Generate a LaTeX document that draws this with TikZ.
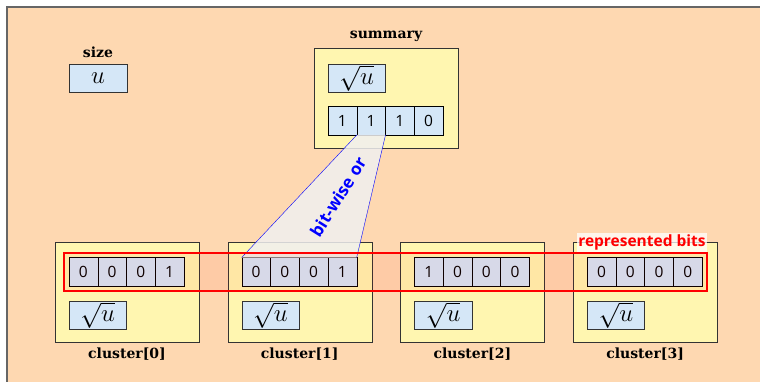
\documentclass[tikz,border=0pt]{standalone}
\usepackage{fontspec}
\setsansfont{Open Sans}
\newfontfamily\labelfont{DejaVu Serif}
\usetikzlibrary{positioning,fit}

\definecolor{peach}{RGB}{254,216,177}
\definecolor{vebyellow}{RGB}{255,246,176}
\definecolor{cellblue}{RGB}{213,231,247}
\definecolor{orgray}{RGB}{240,240,240}

\begin{document}
\begin{tikzpicture}[x=1pt, y=-1pt, node distance=0pt, outer sep=0pt]
        \tikzstyle{bit}=[draw=black, fill=cellblue, minimum width=28.75pt, minimum height=28.5pt, inner sep=0pt, font=\fontsize{15.5}{15.5}\sffamily]
        \tikzstyle{root}=[draw=black!80, fill=cellblue, minimum width=57.5pt, minimum height=28.5pt, inner sep=0pt, font=\fontsize{24.88}{25}\selectfont]
        \tikzstyle{veb}=[draw=black!80, fill=vebyellow, minimum width=144pt, minimum height=100pt, inner sep=0pt]
        \tikzstyle{title}=[inner sep=0pt, font=\fontsize{14}{14}\labelfont\bfseries]
        \useasboundingbox (0,0) rectangle (760,382);
        \fill[peach] (7,7) rectangle (762,384);
        \draw[black!60, line width=1.5pt] (7,384) -- (7,7) -- (762,7);

        % size
        \node[root]    (size)  at (98,78)                       {$u$};
        \node[title]   (sizet) [above=6pt of size]              {size};

        % summary
        \node[veb]     (sum)   at (386,98)                      {};
        \node[title]   (sumt)  [above=6pt of sum]               {summary};
        \node[root]    (sroot) [below right=16pt and 14pt of sum.north west] {$\sqrt{u}$};
        \node[bit]     (s0)    [below right=14pt and 0pt of sroot.south west] {1};
        \node[bit]     (s1)    [right=of s0]                    {1};
        \node[bit]     (s2)    [right=of s1]                    {1};
        \node[bit]     (s3)    [right=of s2]                    {0};

        % clusters
        \node[veb]     (c0)    at (127,292.5)                   {};
        \node[veb]     (c1)    [right=28.7pt of c0]             {};
        \node[veb]     (c2)    [right=28.7pt of c1]             {};
        \node[veb]     (c3)    [right=28.7pt of c2]             {};
        \node[title]   (c0t)   [below=5pt of c0]                {cluster[0]};
        \node[title]   (c1t)   [below=5pt of c1]                {cluster[1]};
        \node[title]   (c2t)   [below=5pt of c2]                {cluster[2]};
        \node[title]   (c3t)   [below=5pt of c3]                {cluster[3]};

        \node[bit]     (c00)   [below right=15pt and 14pt of c0.north west] {0};
        \node[bit]     (c01)   [right=of c00]                   {0};
        \node[bit]     (c02)   [right=of c01]                   {0};
        \node[bit]     (c03)   [right=of c02]                   {1};
        \node[root]    (r0)    [below right=15pt and 0pt of c00.south west] {$\sqrt{u}$};

        \node[bit]     (c10)   [below right=15pt and 14pt of c1.north west] {0};
        \node[bit]     (c11)   [right=of c10]                   {0};
        \node[bit]     (c12)   [right=of c11]                   {0};
        \node[bit]     (c13)   [right=of c12]                   {1};
        \node[root]    (r1)    [below right=15pt and 0pt of c10.south west] {$\sqrt{u}$};

        \node[bit]     (c20)   [below right=15pt and 14pt of c2.north west] {1};
        \node[bit]     (c21)   [right=of c20]                   {0};
        \node[bit]     (c22)   [right=of c21]                   {0};
        \node[bit]     (c23)   [right=of c22]                   {0};
        \node[root]    (r2)    [below right=15pt and 0pt of c20.south west] {$\sqrt{u}$};

        \node[bit]     (c30)   [below right=15pt and 14pt of c3.north west] {0};
        \node[bit]     (c31)   [right=of c30]                   {0};
        \node[bit]     (c32)   [right=of c31]                   {0};
        \node[bit]     (c33)   [right=of c32]                   {0};
        \node[root]    (r3)    [below right=15pt and 0pt of c30.south west] {$\sqrt{u}$};

        % bit-wise or
        \fill[orgray, fill opacity=0.85] (s1.south west) -- (s1.south east) -- (c13.north east) -- (c10.north west) -- cycle;
        \path[draw=blue, thin]
        (s1.south west) edge (c10.north west)
        (s1.south east) edge (c13.north east);
        \node[text=blue, rotate=58, font=\fontsize{17}{17}\sffamily\bfseries] (bwor) at (338,197) {bit-wise or};

        % represented bits
        \node[draw=red, line width=2pt, fill=red, fill opacity=0.06, inner sep=5pt, fit=(c00)(c33)] (rep) {};
        \node[anchor=south east, yshift=1pt, fill=white, fill opacity=0.75, text opacity=1, text=red, inner sep=1.5pt,
              font=\fontsize{15.5}{16}\sffamily\bfseries] (rept) at (rep.north east) {represented bits};
    \end{tikzpicture}
\end{document}
